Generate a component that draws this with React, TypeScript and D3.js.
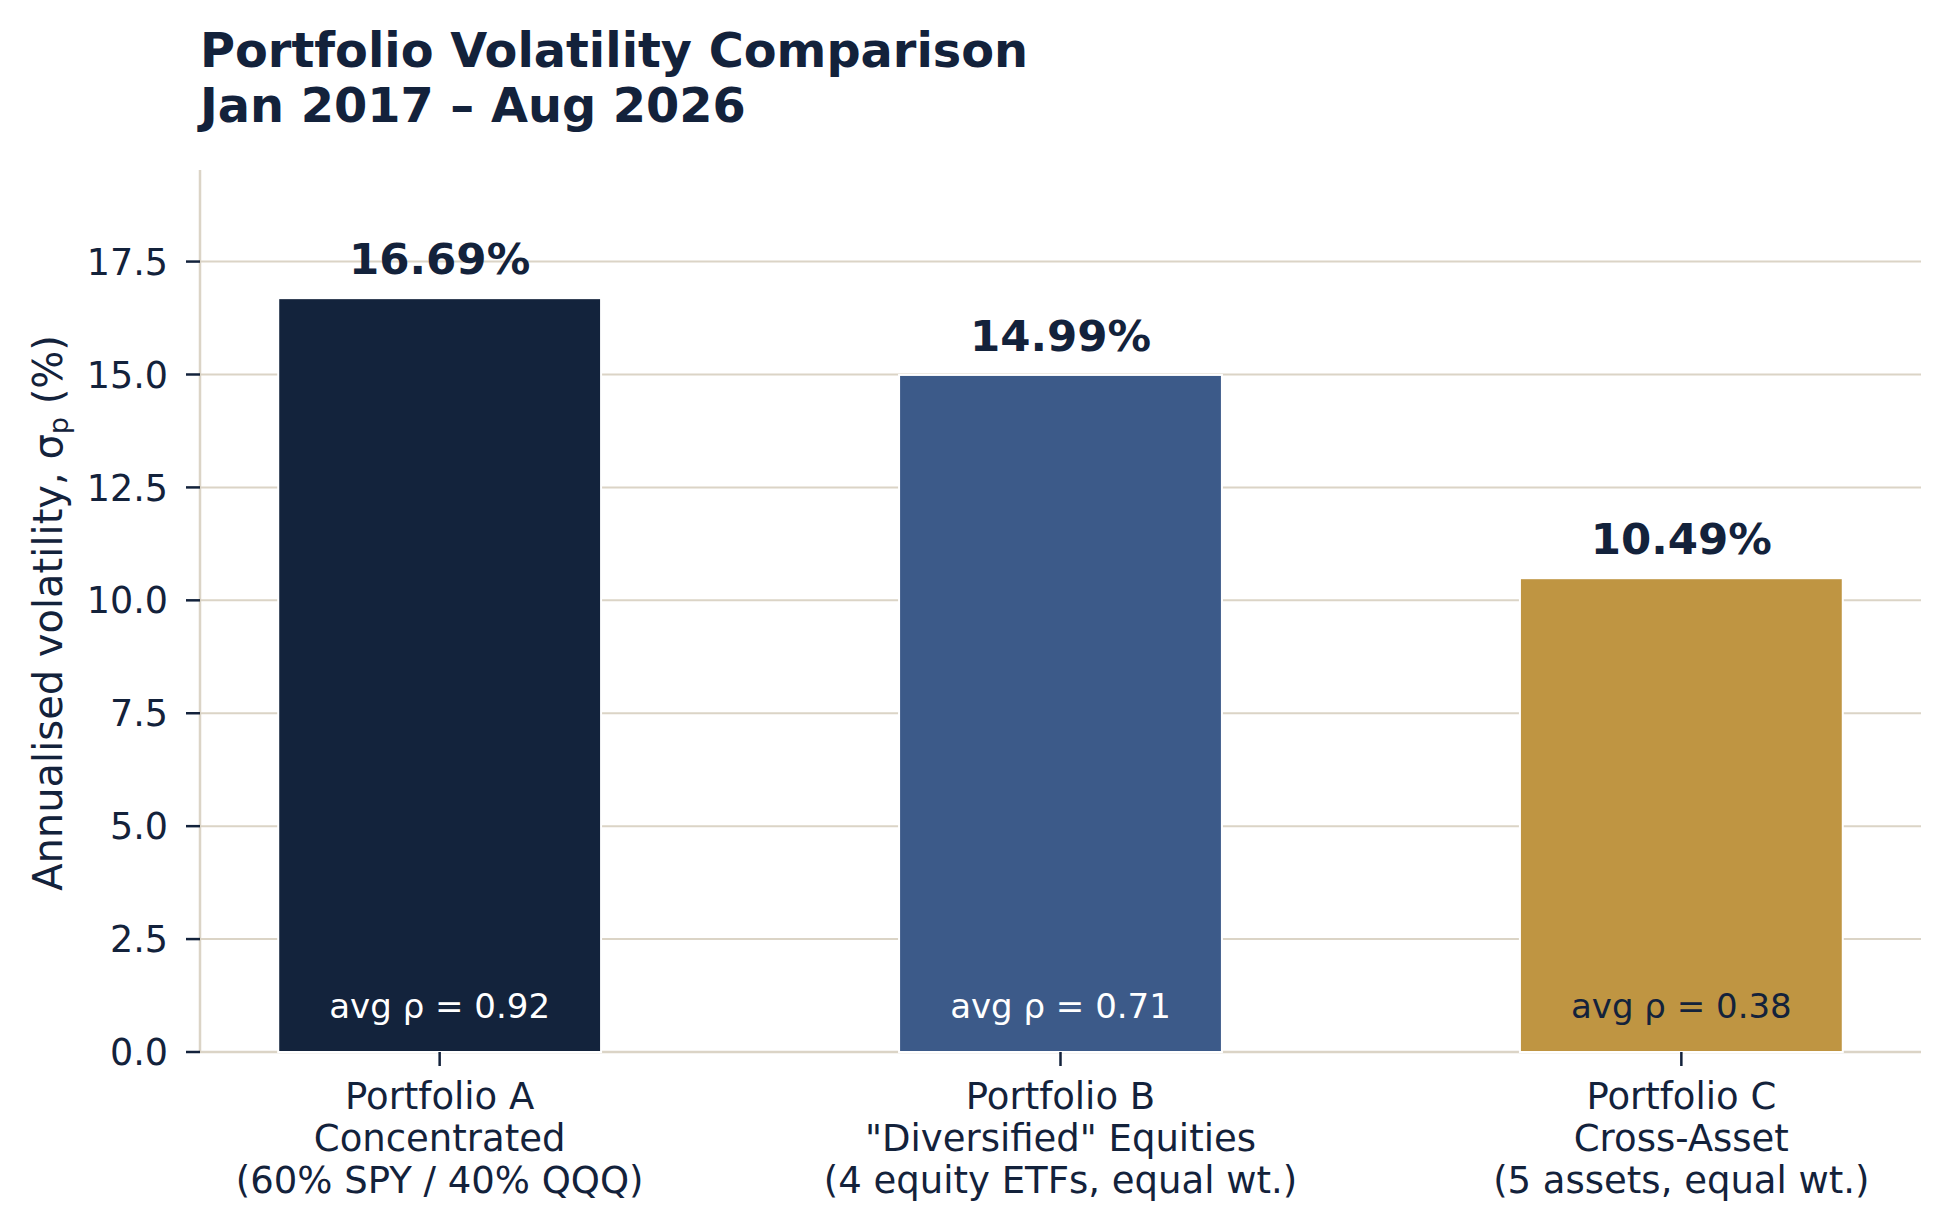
import { useRef, useEffect } from 'react'
import * as d3 from 'd3'

// Data
const portfolios = ['Portfolio A', 'Portfolio B', 'Portfolio C']
const strategies = ['Concentrated', '"Diversified" Equities', 'Cross-Asset']
const compositions = ['(60% SPY / 40% QQQ)', '(4 equity ETFs, equal wt.)', '(5 assets, equal wt.)']
const volatility = [16.69, 14.99, 10.49]
const avgCorrelation = [0.92, 0.71, 0.38]
const yTicks = [0, 2.5, 5, 7.5, 10, 12.5, 15, 17.5]
const titleLines = ['Portfolio Volatility Comparison', 'Jan 2017 – Aug 2026']

const BAR_FILLS = ['#13233c', '#3c5a89', '#bf9542']
const INNER_LABEL_FILLS = ['#ffffff', '#ffffff', '#13223b']
const INK = '#13223b'
const GRID = '#dbd4c6'
const FONT = '"DejaVu Sans", sans-serif'

export default function App() {
  const svgRef = useRef<SVGSVGElement>(null)
  const width = 1950
  const height = 1230

  useEffect(() => {
    if (!svgRef.current) return
    const svg = d3.select(svgRef.current)
    svg.selectAll('*').remove()

    const margin = { top: 170, right: 29, bottom: 178, left: 200 }
    const x0 = margin.left
    const x1 = width - margin.right
    const y0 = height - margin.bottom

    const barWidth = 0.52
    const xScale = d3.scaleLinear()
      .domain([-0.386, volatility.length - 1 + 0.386])
      .range([x0, x1])
    const yScale = d3.scaleLinear()
      .domain([0, d3.max(volatility)! * 1.17])
      .range([y0, margin.top])

    svg.append('rect').attr('width', width).attr('height', height).attr('fill', '#ffffff')

    // Title
    svg.append('g').selectAll('text')
      .data(titleLines)
      .join('text')
      .attr('x', x0)
      .attr('y', (_, i) => 67 + i * 55)
      .attr('fill', INK)
      .attr('font-family', FONT)
      .attr('font-weight', 'bold')
      .attr('font-size', 47.8)
      .text((d) => d)

    // Horizontal grid
    svg.append('g').selectAll('line')
      .data(yTicks.filter((t) => t > 0))
      .join('line')
      .attr('x1', x0).attr('x2', x1)
      .attr('y1', (d) => yScale(d)).attr('y2', (d) => yScale(d))
      .attr('stroke', GRID)
      .attr('stroke-width', 2)

    // Spines
    svg.append('line')
      .attr('x1', x0).attr('x2', x0)
      .attr('y1', margin.top).attr('y2', y0)
      .attr('stroke', GRID).attr('stroke-width', 2.5)
    svg.append('line')
      .attr('x1', x0).attr('x2', x1)
      .attr('y1', y0).attr('y2', y0)
      .attr('stroke', GRID).attr('stroke-width', 2.5)

    // Bars
    const idx = volatility.map((_, i) => i)
    svg.append('g').selectAll('rect')
      .data(idx)
      .join('rect')
      .attr('x', (i) => xScale(i - barWidth / 2))
      .attr('y', (i) => yScale(volatility[i]))
      .attr('width', (i) => xScale(i + barWidth / 2) - xScale(i - barWidth / 2))
      .attr('height', (i) => y0 - yScale(volatility[i]))
      .attr('fill', (i) => BAR_FILLS[i])
      .attr('stroke', '#ffffff')
      .attr('stroke-width', 2)

    // Value labels above bars
    svg.append('g').selectAll('text')
      .data(idx)
      .join('text')
      .attr('x', (i) => xScale(i))
      .attr('y', (i) => yScale(volatility[i]) - 24)
      .attr('text-anchor', 'middle')
      .attr('fill', INK)
      .attr('font-family', FONT)
      .attr('font-weight', 'bold')
      .attr('font-size', 43.5)
      .text((i) => `${volatility[i].toFixed(2)}%`)

    // Correlation labels inside bars
    svg.append('g').selectAll('text')
      .data(idx)
      .join('text')
      .attr('x', (i) => xScale(i))
      .attr('y', y0 - 34)
      .attr('text-anchor', 'middle')
      .attr('fill', (i) => INNER_LABEL_FILLS[i])
      .attr('font-family', FONT)
      .attr('font-size', 34)
      .text((i) => `avg ρ = ${avgCorrelation[i].toFixed(2)}`)

    // Y ticks
    const yAxis = svg.append('g')
    yAxis.selectAll('line')
      .data(yTicks)
      .join('line')
      .attr('x1', x0 - 14).attr('x2', x0)
      .attr('y1', (d) => yScale(d)).attr('y2', (d) => yScale(d))
      .attr('stroke', INK).attr('stroke-width', 2.5)
    yAxis.selectAll('text')
      .data(yTicks)
      .join('text')
      .attr('x', x0 - 32)
      .attr('y', (d) => yScale(d))
      .attr('dy', '0.36em')
      .attr('text-anchor', 'end')
      .attr('fill', INK)
      .attr('font-family', FONT)
      .attr('font-size', 36.5)
      .text((d) => d.toFixed(1))

    // X ticks
    const xAxis = svg.append('g')
    xAxis.selectAll('line')
      .data(idx)
      .join('line')
      .attr('x1', (i) => xScale(i)).attr('x2', (i) => xScale(i))
      .attr('y1', y0).attr('y2', y0 + 14)
      .attr('stroke', INK).attr('stroke-width', 2.5)
    xAxis.selectAll('text')
      .data(idx)
      .join('text')
      .attr('text-anchor', 'middle')
      .attr('fill', INK)
      .attr('font-family', FONT)
      .attr('font-size', 37)
      .each(function (i) {
        const t = d3.select(this)
        ;[portfolios[i], strategies[i], compositions[i]].forEach((line, k) => {
          t.append('tspan')
            .attr('x', xScale(i))
            .attr('y', y0 + 57 + k * 42)
            .text(line)
        })
      })

    // Y axis label
    const yLabel = svg.append('text')
      .attr('transform', `translate(62,${(margin.top + y0) / 2 + 2}) rotate(-90)`)
      .attr('text-anchor', 'middle')
      .attr('fill', INK)
      .attr('font-family', FONT)
      .attr('font-size', 40)
    yLabel.append('tspan').text('Annualised volatility, σ')
    yLabel.append('tspan').attr('font-size', 27).attr('dy', 6).text('p')
    yLabel.append('tspan').attr('dy', -6).text(' (%)')
  }, [])

  return (
    <div style={{ position: 'absolute', left: 0, top: 0 }}>
      <svg ref={svgRef} width={width} height={height} style={{ display: 'block' }} />
    </div>
  )
}
